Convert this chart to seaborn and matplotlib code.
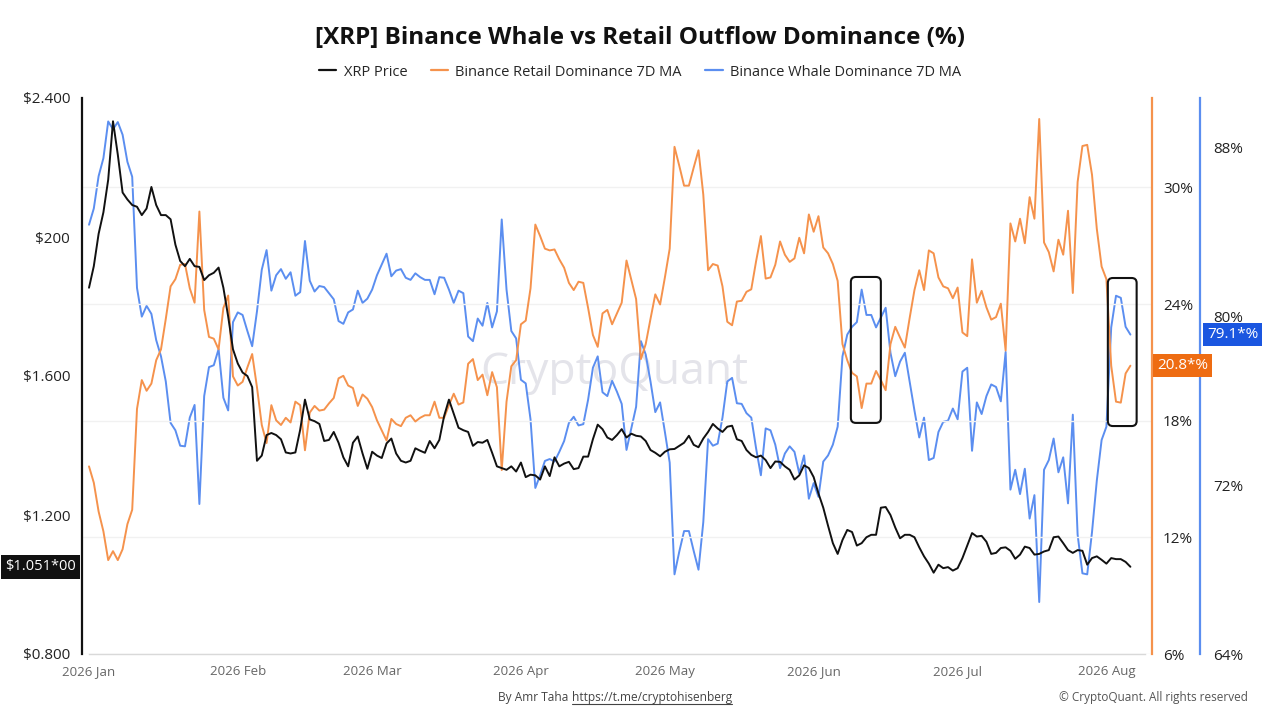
import numpy as np
import pandas as pd
import matplotlib
matplotlib.use("Agg")
import matplotlib.pyplot as plt
import matplotlib.dates as mdates
import seaborn as sns
from matplotlib.patches import FancyBboxPatch
from matplotlib.transforms import blended_transform_factory, IdentityTransform
from matplotlib.lines import Line2D

# ---------------- data ----------------
start_date = "2026-01-01"

price = [
    1.854, 1.916, 2.009, 2.071, 2.165, 2.333, 2.237, 2.128, 2.108, 2.092,
    2.087, 2.063, 2.082, 2.144, 2.092, 2.063, 2.063, 2.051, 1.978, 1.931,
    1.916, 1.937, 1.916, 1.914, 1.876, 1.890, 1.897, 1.912, 1.854, 1.771,
    1.677, 1.636, 1.610, 1.600, 1.568, 1.356, 1.371, 1.430, 1.436, 1.430,
    1.418, 1.380, 1.377, 1.380, 1.445,
    1.532, 1.475, 1.470, 1.462, 1.413, 1.416, 1.439, 1.408, 1.366, 1.340,
    1.408, 1.426, 1.377, 1.333, 1.382, 1.371, 1.364, 1.406, 1.420, 1.377,
    1.356, 1.351, 1.356, 1.392, 1.385, 1.379, 1.413, 1.392, 1.416, 1.485,
    1.532, 1.491, 1.451, 1.444, 1.439, 1.399, 1.410, 1.408, 1.416, 1.379,
    1.340, 1.335, 1.330, 1.340,
    1.325, 1.351, 1.309, 1.316, 1.314, 1.302, 1.340, 1.312, 1.366, 1.340,
    1.348, 1.353, 1.332, 1.335, 1.368, 1.368, 1.418, 1.460, 1.447, 1.423,
    1.416, 1.430, 1.447, 1.423, 1.434, 1.428, 1.426, 1.413, 1.387, 1.379,
    1.369, 1.382, 1.389, 1.390, 1.399, 1.408, 1.428, 1.402, 1.395, 1.420,
    1.439, 1.462, 1.449, 1.439,
    1.454, 1.457, 1.418, 1.413, 1.387, 1.373, 1.366, 1.371, 1.358, 1.335,
    1.354, 1.353, 1.340, 1.330, 1.302, 1.314, 1.343, 1.335, 1.309, 1.262,
    1.221, 1.169, 1.119, 1.088, 1.128, 1.157, 1.151, 1.112, 1.119, 1.136,
    1.143, 1.143, 1.221, 1.223, 1.200, 1.164, 1.133, 1.143, 1.143, 1.136,
    1.107, 1.081, 1.060,
    1.034, 1.057, 1.047, 1.050, 1.040, 1.047, 1.076, 1.112, 1.148, 1.138,
    1.140, 1.123, 1.088, 1.091, 1.105, 1.107, 1.097, 1.074, 1.086, 1.109,
    1.105, 1.086, 1.088, 1.095, 1.099, 1.136, 1.138, 1.119, 1.099, 1.091,
    1.099, 1.097, 1.057, 1.076, 1.081, 1.071, 1.060, 1.076, 1.073, 1.073,
    1.065, 1.051,
]

retail = [
    15.65, 14.81, 13.33, 12.31, 10.83, 11.29, 10.83, 11.39, 12.68, 13.42,
    18.61, 20.09, 19.54, 19.91, 21.11, 21.67, 23.24, 24.91, 25.28, 26.02,
    26.06, 24.81, 24.07, 28.76, 23.70, 22.31, 22.22, 21.67, 23.80, 24.44,
    20.28, 19.81, 20.00, 20.74, 21.43, 19.72, 17.78, 16.85, 18.80, 18.02,
    17.78, 18.15, 17.91, 18.98, 18.80,
    16.48, 18.42, 18.76, 18.52, 18.57, 18.89, 19.17, 20.18, 20.31, 19.81,
    19.68, 18.76, 19.35, 19.13, 18.70, 18.02, 17.50, 16.98, 18.09, 17.83,
    17.72, 18.15, 18.28, 17.96, 18.15, 18.28, 18.28, 18.98, 18.15, 18.15,
    18.80, 19.39, 18.83, 18.94, 20.93, 21.17, 20.09, 20.37, 19.31, 20.50,
    19.72, 15.46, 18.98, 20.80,
    21.11, 22.96, 23.15, 24.81, 28.09, 27.50, 26.85, 26.76, 26.81, 26.30,
    25.87, 25.09, 24.72, 25.15, 25.09, 23.80, 22.41, 21.80, 23.52, 23.70,
    22.96, 23.52, 24.07, 26.24, 25.24, 24.26, 21.17, 21.94, 23.24, 24.50,
    23.98, 25.37, 26.85, 32.09, 31.11, 30.09, 30.09, 31.02, 31.91, 29.63,
    25.74, 26.06, 25.98, 24.91,
    23.09, 22.91, 24.13, 24.17, 24.63, 24.76, 26.20, 27.50, 25.31, 25.37,
    26.02, 27.22, 26.54, 26.17, 26.35, 27.41, 26.61, 28.61, 27.72, 28.52,
    26.91, 26.61, 26.06, 25.19, 21.94, 21.11, 20.46, 20.28, 18.65, 19.91,
    19.91, 20.56, 20.09, 19.57, 21.94, 22.83, 22.28, 21.76, 23.28, 24.72,
    25.74, 24.72, 26.76,
    26.61, 25.37, 24.91, 24.81, 24.30, 24.85, 22.54, 22.35, 26.30, 24.07,
    24.68, 23.83, 23.20, 23.33, 24.02, 21.61, 28.15, 27.22, 28.39, 27.13,
    29.50, 28.39, 33.52, 27.17, 26.67, 25.68, 27.31, 26.54, 28.80, 24.57,
    30.28, 32.13, 32.19, 30.65, 27.87, 25.93, 25.28, 20.83, 18.98, 18.93,
    20.43, 20.83,
]

whale = [
    84.32, 85.09, 86.62, 87.47, 89.21, 88.84, 89.18, 88.58, 87.30, 86.59,
    81.33, 79.97, 80.48, 80.10, 78.86, 78.09, 76.90, 74.94, 74.59, 73.86,
    73.83, 75.19, 75.79, 71.10, 76.21, 77.58, 77.67, 78.43, 76.13, 75.53,
    79.71, 80.17, 80.05, 79.29, 78.57, 80.22, 82.19, 83.12, 81.20, 81.93,
    82.22, 81.76, 82.07, 80.96, 81.13,
    83.55, 81.67, 81.16, 81.42, 81.37, 81.08, 80.79, 79.76, 79.63, 80.17,
    80.31, 81.20, 80.62, 80.82, 81.25, 81.93, 82.44, 82.95, 81.88, 82.15,
    82.22, 81.81, 81.71, 82.02, 81.84, 81.71, 81.71, 81.03, 81.84, 81.81,
    81.25, 80.62, 81.20, 81.08, 79.03, 78.81, 79.88, 79.54, 80.62, 79.46,
    80.22, 84.57, 81.25, 79.29,
    78.94, 76.98, 76.81, 75.11, 71.86, 72.46, 73.14, 73.23, 73.11, 73.57,
    74.08, 74.94, 75.23, 74.82, 74.88, 76.04, 77.55, 78.09, 76.39, 76.21,
    76.93, 76.42, 75.84, 73.66, 74.68, 75.70, 78.81, 78.18, 76.90, 75.45,
    75.91, 74.51, 73.06, 67.77, 68.85, 69.82, 69.82, 68.88, 67.99, 70.24,
    74.17, 73.86, 73.96, 75.19,
    76.90, 77.07, 75.87, 75.84, 75.40, 75.19, 73.74, 72.46, 74.68, 74.59,
    73.91, 72.80, 73.49, 73.83, 73.57, 72.55, 73.40, 71.35, 72.09, 71.44,
    73.11, 73.40, 73.91, 74.76, 78.09, 79.12, 79.49, 79.71, 81.25, 80.05,
    80.05, 79.46, 79.93, 80.39, 78.26, 77.15, 77.84, 78.26, 76.90, 75.53,
    74.25, 75.19, 73.18,
    73.28, 74.51, 74.99, 75.05, 75.62, 75.11, 77.37, 77.55, 73.62, 75.91,
    75.36, 76.21, 76.76, 76.64, 75.96, 78.30, 71.78, 72.72, 71.57, 72.77,
    70.41, 71.52, 66.46, 72.72, 73.18, 74.20, 72.60, 73.31, 71.13, 75.33,
    69.65, 67.82, 67.77, 69.77, 72.21, 74.13, 74.76, 79.46, 80.96, 80.86,
    79.49, 79.12,
]

price_ticks = [0.8, 1.2, 1.6, 2.0, 2.4]
price_tick_labels = ["$0.800", "$1.200", "$1.600", "$200", "$2.400"]
retail_ticks = [6, 12, 18, 24, 30]
whale_ticks = [64, 72, 80, 88]
month_ticks = pd.date_range("2026-01-01", "2026-08-01", freq="MS")
month_labels = [d.strftime("%Y %b") for d in month_ticks]

series_names = ["XRP Price", "Binance Retail Dominance 7D MA", "Binance Whale Dominance 7D MA"]
title = "[XRP] Binance Whale vs Retail Outflow Dominance (%)"

# highlight boxes: (start day offset, end day offset, price low, price high)
highlight_boxes = [(158.75, 165.0, 1.465, 1.885), (212.3, 218.3, 1.456, 1.882)]

dates = pd.date_range(start_date, periods=len(price), freq="D")
df = pd.DataFrame({"date": dates, "price": price, "retail": retail, "whale": whale})

C_PRICE = "#111111"
C_RETAIL = "#f5924c"
C_WHALE = "#5b8ef0"

PX = 72 / 100  # points per pixel at dpi 100

# ---------------- figure ----------------
sns.set_theme(style="white")
plt.rcParams["font.family"] = ["Open Sans", "DejaVu Sans"]

fig = plt.figure(figsize=(12.8, 7.2), dpi=100)
fig.patch.set_facecolor("white")
ax = fig.add_axes([82 / 1280, 66 / 720, 1070 / 1280, 556 / 720])
ax_r = ax.twinx()
ax_w = ax.twinx()

ax_w.set_zorder(1)
ax_r.set_zorder(2)
ax.set_zorder(3)
for a in (ax, ax_r, ax_w):
    a.patch.set_visible(False)

sns.lineplot(data=df, x="date", y="whale", ax=ax_w, color=C_WHALE, lw=1.4)
sns.lineplot(data=df, x="date", y="retail", ax=ax_r, color=C_RETAIL, lw=1.4)
sns.lineplot(data=df, x="date", y="price", ax=ax, color=C_PRICE, lw=1.4)

x0 = dates[0]
ax.set_xlim(x0 - pd.Timedelta(days=1.46), x0 + pd.Timedelta(days=221.5))
ax.set_ylim(0.8, 2.4)
ax_r.set_ylim(6, 34.6)
ax_w.set_ylim(64, 90.32)

for a in (ax, ax_r, ax_w):
    a.set_xlabel("")
    a.set_ylabel("")

# price axis
ax.set_yticks(price_ticks)
ax.set_yticklabels(price_tick_labels)
ax.tick_params(axis="y", length=0, pad=12 * PX, labelsize=11, labelcolor="#222222")
ax.set_xticks(month_ticks)
ax.set_xticklabels(month_labels)
ax.tick_params(axis="x", length=5 * PX, width=1, color="#d4d4d4", pad=6 * PX,
               labelsize=9.5, labelcolor="#666666")
for s in ("top", "right"):
    ax.spines[s].set_visible(False)
ax.spines["left"].set_color("#111111")
ax.spines["left"].set_linewidth(1.6)
ax.spines["bottom"].set_color("#d9d9d9")
ax.spines["bottom"].set_linewidth(1)
ax.spines["bottom"].set_bounds(mdates.date2num(x0), mdates.date2num(x0 + pd.Timedelta(days=220)))

# retail axis
ax_r.set_yticks(retail_ticks)
ax_r.set_yticklabels([f"{t}%" for t in retail_ticks])
ax_r.tick_params(axis="y", length=0, pad=11 * PX, labelsize=11, labelcolor="#222222")
ax_r.grid(axis="y", color="#f1f1f1", lw=1)
ax_r.grid(axis="x", visible=False)
for s in ("top", "left", "bottom"):
    ax_r.spines[s].set_visible(False)
ax_r.spines["right"].set_color(C_RETAIL)
ax_r.spines["right"].set_linewidth(1.6)

# whale axis
ax_w.set_yticks(whale_ticks)
ax_w.set_yticklabels([f"{t}%" for t in whale_ticks])
ax_w.tick_params(axis="y", length=0, pad=13 * PX, labelsize=11, labelcolor="#222222")
for s in ("top", "left", "bottom"):
    ax_w.spines[s].set_visible(False)
ax_w.spines["right"].set_position(("outward", 48 * PX))
ax_w.spines["right"].set_color(C_WHALE)
ax_w.spines["right"].set_linewidth(1.6)
ax_w.grid(False)

# current value labels
tr_p = blended_transform_factory(ax.transAxes, ax.transData)
ax.text(-6 / 1070, price[-1], f"${price[-1]:.3f}*00", transform=tr_p, ha="right", va="center",
        color="white", fontsize=10.5, zorder=10,
        bbox=dict(boxstyle="square,pad=0.3", fc="#111111", ec="none"))
tr_r = blended_transform_factory(ax_r.transAxes, ax_r.transData)
ax_r.text(1 + 5 / 1070, retail[-1], f"{retail[-1]:.1f}*%", transform=tr_r, ha="left", va="center",
          color="white", fontsize=11, zorder=10,
          bbox=dict(boxstyle="square,pad=0.25", fc="#ee6c12", ec="none"))
tr_w = blended_transform_factory(ax_w.transAxes, ax_w.transData)
ax_w.text(1 + 55 / 1070, whale[-1], f"{whale[-1]:.1f}*%", transform=tr_w, ha="left", va="center",
          color="white", fontsize=11, zorder=10,
          bbox=dict(boxstyle="square,pad=0.25", fc="#1a56e0", ec="none"))

# highlight boxes (drawn in display coords so corners stay round)
for d0, d1, p0, p1 in highlight_boxes:
    xa = mdates.date2num(x0 + pd.Timedelta(days=d0))
    xb = mdates.date2num(x0 + pd.Timedelta(days=d1))
    (px0, py0) = ax.transData.transform((xa, p0))
    (px1, py1) = ax.transData.transform((xb, p1))
    box = FancyBboxPatch((px0, py0), px1 - px0, py1 - py0,
                         boxstyle="round,pad=0,rounding_size=5",
                         transform=IdentityTransform(), fill=False,
                         ec="#111111", lw=1.5, zorder=6)
    fig.patches.append(box)

# watermark
fig.text(614 / 1280, 1 - 373 / 720, "CryptoQuant", fontsize=32, color="#e4e4ea",
         ha="center", va="center", zorder=0.5, fontweight="medium")

# title & legend
fig.text(0.5, 1 - 38 / 720, title, ha="center", va="center", fontsize=17.5,
         fontweight="bold", color="#111111")
handles = [Line2D([], [], color=c, lw=1.6) for c in (C_PRICE, C_RETAIL, C_WHALE)]
fig.legend(handles, series_names, loc="center", bbox_to_anchor=(640 / 1280, 1 - 72 / 720),
           ncol=3, frameon=False, fontsize=10.5, handlelength=1.2, handletextpad=0.5,
           columnspacing=1.6)

# footer
fy = 1 - 698 / 720
split_x = 572 / 1280
t1 = fig.text(split_x, fy, "By Amr Taha ", ha="right", va="center", fontsize=8.6, color="#444444")
t2 = fig.text(split_x, fy, "https://t.me/cryptohisenberg", ha="left", va="center", fontsize=8.6,
              color="#444444")
fig.text(1248 / 1280, fy, "\u00a9 CryptoQuant. All rights reserved", ha="right", va="center",
         fontsize=8.5, color="#555555")
renderer = fig.canvas.get_renderer()
bb = t2.get_window_extent(renderer=renderer)
fig.lines.append(Line2D([bb.x0, bb.x1], [bb.y0 + 1, bb.y0 + 1], transform=IdentityTransform(),
                        color="#444444", lw=0.8))

fig.savefig("out.png", dpi=100, facecolor="white")
